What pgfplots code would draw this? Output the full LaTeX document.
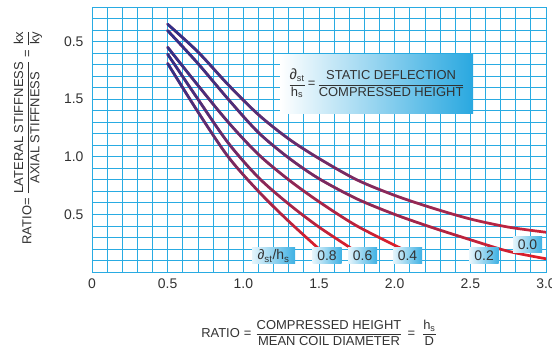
\documentclass[border=0pt]{standalone}
\usepackage{fontspec}
\setmainfont{Liberation Sans}
\usepackage{pgfplots}
\pgfplotsset{compat=1.18}
\usetikzlibrary{fadings}
\definecolor{gridc}{RGB}{41,171,226}
\definecolor{txt}{RGB}{50,50,50}
\definecolor{boxc}{RGB}{41,168,224}
\definecolor{navy}{RGB}{45,50,140}
\definecolor{cred}{RGB}{228,30,38}
\definecolor{cmar}{RGB}{205,35,55}
\tikzfading[name=fadeR, left color=transparent!0, right color=transparent!100]
\newcommand\pd{∂}
\newcommand\fr[2]{$\displaystyle\frac{\mbox{#1}}{\mbox{#2}}$}

\begin{document}
\fontsize{13}{15.6}\selectfont
\begin{tikzpicture}
\begin{axis}[
  name=ax,
  width=454bp, height=265bp, scale only axis,
  xmin=0, xmax=3, ymin=0, ymax=2.3,
  xtick={0,0.5,1,1.5,2,2.5,3}, xticklabels={0,0.5,1.0,1.5,2.0,2.5,3.0},
  ytick={0.5,1,1.5,2}, yticklabels={0.5,1.0,1.5,0.5},
  minor xtick={0,0.1,...,3.01}, minor ytick={0,0.1,...,2.31},
  grid=both,
  major grid style={gridc, line width=0.8pt},
  minor grid style={gridc, line width=0.8pt},
  axis line style={gridc, line width=0.8pt},
  major tick length=0pt, minor tick length=0pt,
  tick label style={text=txt, font=\fontsize{14}{16}\selectfont},
  xticklabel style={yshift=-2bp},
  yticklabel style={xshift=-4bp},
  xlabel={RATIO\hspace{4bp}=\hspace{4bp}\fr{COMPRESSED HEIGHT}{MEAN COIL DIAMETER}\hspace{5bp}=\hspace{7bp}\fr{h\textsubscript{s}}{D}},
  xlabel style={at={(axis description cs:0.5,0)}, anchor=center, yshift=-61bp, text=txt},
  ylabel={RATIO= \fr{LATERAL STIFFNESS}{AXIAL STIFFNESS} = \fr{kx}{ky}},
  ylabel style={at={([xshift=-64bp,yshift=2bp]axis description cs:0,0.5)}, anchor=center, text=txt},
  every axis plot/.append style={smooth, tension=0.5, line width=2.7pt, line cap=round},
]
% 0.0
\addplot[cmar] table[row sep=\\] {x y\\ 0.5 2.15\\ 0.7 1.91\\ 0.9 1.625\\ 1.1 1.365\\ 1.3 1.155\\ 1.5 0.985\\ 1.75 0.80\\ 2.0 0.665\\ 2.25 0.555\\ 2.5 0.46\\ 2.75 0.39\\ 3.0 0.345\\};
\addplot[navy, path fading=fadeR] table[row sep=\\] {x y\\ 0.5 2.15\\ 0.7 1.91\\ 0.9 1.625\\ 1.1 1.365\\ 1.3 1.155\\ 1.5 0.985\\ 1.75 0.80\\ 2.0 0.665\\ 2.25 0.555\\ 2.5 0.46\\ 2.75 0.39\\ 3.0 0.345\\};
% 0.2
\addplot[cred] table[row sep=\\] {x y\\ 0.5 2.095\\ 0.7 1.81\\ 0.9 1.50\\ 1.1 1.21\\ 1.3 0.99\\ 1.5 0.81\\ 1.75 0.635\\ 2.0 0.50\\ 2.25 0.385\\ 2.5 0.28\\ 2.75 0.18\\ 3.0 0.115\\};
\addplot[navy, path fading=fadeR] table[row sep=\\] {x y\\ 0.5 2.095\\ 0.7 1.81\\ 0.9 1.50\\ 1.1 1.21\\ 1.3 0.99\\ 1.5 0.81\\ 1.75 0.635\\ 2.0 0.50\\ 2.25 0.385\\ 2.5 0.28\\ 2.75 0.18\\ 3.0 0.115\\};
% 0.4
\addplot[cred] table[row sep=\\] {x y\\ 0.5 1.95\\ 0.7 1.62\\ 0.9 1.30\\ 1.1 1.02\\ 1.3 0.80\\ 1.5 0.61\\ 1.75 0.40\\ 2.05 0.20\\};
\addplot[navy, path fading=fadeR] table[row sep=\\] {x y\\ 0.5 1.95\\ 0.7 1.62\\ 0.9 1.30\\ 1.1 1.02\\ 1.3 0.80\\ 1.5 0.61\\ 1.75 0.40\\ 2.05 0.20\\};
% 0.6
\addplot[cred] table[row sep=\\] {x y\\ 0.5 1.89\\ 0.7 1.50\\ 0.9 1.12\\ 1.1 0.82\\ 1.3 0.59\\ 1.5 0.39\\ 1.76 0.165\\};
\addplot[navy, path fading=fadeR] table[row sep=\\] {x y\\ 0.5 1.89\\ 0.7 1.50\\ 0.9 1.12\\ 1.1 0.82\\ 1.3 0.59\\ 1.5 0.39\\ 1.76 0.165\\};
% 0.8
\addplot[cred] table[row sep=\\] {x y\\ 0.5 1.81\\ 0.7 1.39\\ 0.9 1.00\\ 1.1 0.70\\ 1.3 0.44\\ 1.53 0.165\\};
\addplot[navy, path fading=fadeR] table[row sep=\\] {x y\\ 0.5 1.81\\ 0.7 1.39\\ 0.9 1.00\\ 1.1 0.70\\ 1.3 0.44\\ 1.53 0.165\\};
\node[minimum width=193bp, minimum height=59bp, inner sep=0pt, left color=white, right color=boxc, text=txt] at (axis cs:1.88,1.636)
  {\fr{{\fontsize{15}{16}\selectfont\pd}\textsubscript{st}}{h\textsubscript{s}}\,=\,\fr{STATIC DEFLECTION}{COMPRESSED HEIGHT}};
\tikzset{lbl/.style={minimum width=29bp, minimum height=16bp, inner sep=0pt, left color=boxc!12, right color=boxc!90, text=txt, font=\fontsize{14}{16}\selectfont}}
\node[lbl, minimum width=43bp] at (axis cs:1.20,0.139) {\pd\textsubscript{st}/h\textsubscript{s}};
\node[lbl] at (axis cs:1.553,0.139) {0.8};
\node[lbl] at (axis cs:1.788,0.139) {0.6};
\node[lbl] at (axis cs:2.085,0.139) {0.4};
\node[lbl] at (axis cs:2.591,0.139) {0.2};
\node[lbl] at (axis cs:2.878,0.239) {0.0};
\end{axis}
\pgfresetboundingbox
\path[use as bounding box] ([shift={(-92bp,-82bp)}]ax.south west) rectangle ([shift={(6bp,7bp)}]ax.north east);
\end{tikzpicture}
\end{document}
